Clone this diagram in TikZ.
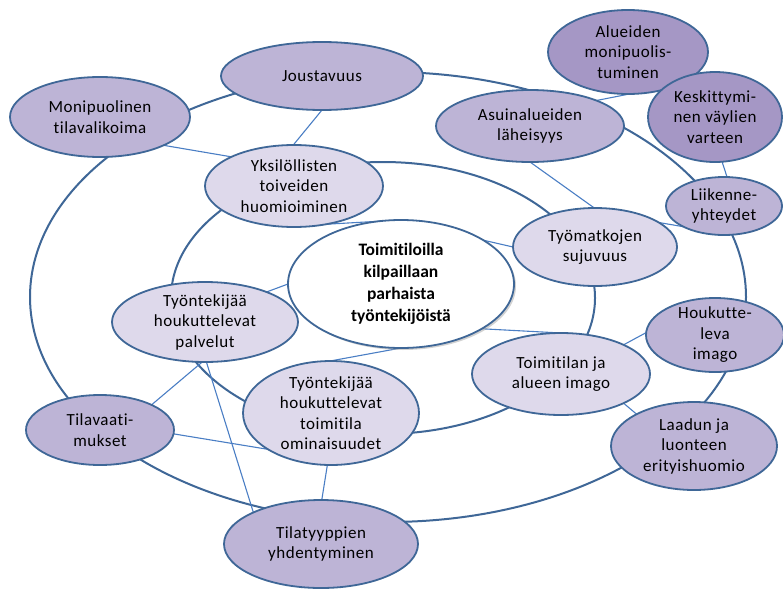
\documentclass[tikz,border=0pt]{standalone}
\usepackage{fontspec}
\setmainfont{Carlito}[Ligatures=NoCommon]
\newfontfamily\nodefont{Carlito}[LetterSpace=3, Ligatures=NoCommon]
\usetikzlibrary{shapes.geometric,backgrounds,shadows}

\definecolor{edgecol}{HTML}{3F6797}
\definecolor{linkcol}{HTML}{4A7EC4}
\definecolor{darkfill}{HTML}{A597C5}
\definecolor{outerfill}{HTML}{BDB4D6}
\definecolor{innerfill}{HTML}{DED9EB}

\tikzset{
  bubble/.style={ellipse, draw=edgecol, line width=1.8pt, inner sep=0pt, outer sep=0pt},
  darkbubble/.style={bubble, fill=darkfill},
  outerbubble/.style={bubble, fill=outerfill},
  innerbubble/.style={bubble, fill=innerfill},
  txt/.style={align=center, inner sep=0pt, font=\nodefont\fontsize{17}{20.5}\selectfont},
  coretxt/.style={align=center, inner sep=0pt, font=\bfseries\fontsize{17.5}{22}\selectfont},
  ring/.style={draw=edgecol, line width=2pt},
  link/.style={draw=linkcol, line width=1.1pt},
}

\begin{document}
\begin{tikzpicture}[x=1pt, y=-1pt]
\useasboundingbox (0,0) rectangle (783,589);

% core theme
\node[bubble, fill=white, minimum width=226pt, minimum height=128pt,
      drop shadow={shadow xshift=2pt, shadow yshift=-2pt, fill=gray!70},
      label={[coretxt]center:Toimitiloilla\\kilpaillaan\\parhaista\\työntekijöistä}]
      (ctr) at (401,284) {};

% middle ring themes
\node[innerbubble, minimum width=178pt, minimum height=82pt,
      label={[txt]center:Yksilöllisten\\toiveiden\\huomioiminen}] (yks) at (294,186) {};
\node[innerbubble, minimum width=164pt, minimum height=78pt,
      label={[txt]center:Työmatkojen\\sujuvuus}] (tyo) at (595,247) {};
\node[innerbubble, minimum width=178pt, minimum height=82pt,
      label={[txt]center:Toimitilan ja\\alueen imago}] (ima) at (561,374) {};
\node[innerbubble, minimum width=176pt, minimum height=104pt,
      label={[txt]center:Työntekijää\\houkuttelevat\\toimitila\\ominaisuudet}] (omi) at (331,413) {};
\node[innerbubble, minimum width=186pt, minimum height=80pt,
      label={[txt]center:Työntekijää\\houkuttelevat\\palvelut}] (pal) at (205,322) {};

% outer ring themes
\node[outerbubble, minimum width=180pt, minimum height=80pt,
      label={[txt]center:Monipuolinen\\tilavalikoima}] (mon) at (100,117) {};
\node[outerbubble, minimum width=202pt, minimum height=68pt,
      label={[txt]center:Joustavuus}] (jou) at (322,76) {};
\node[darkbubble, minimum width=160pt, minimum height=84pt,
      label={[txt]center:Alueiden\\monipuolis-\\tuminen}] (alu) at (628,52) {};
\node[darkbubble, minimum width=134pt, minimum height=90pt,
      label={[txt]center:Keskittymi-\\nen väylien\\varteen}] (kes) at (715,117) {};
\node[outerbubble, minimum width=188pt, minimum height=72pt,
      label={[txt]center:Asuinalueiden\\läheisyys}] (asu) at (530,126) {};
\node[outerbubble, minimum width=116pt, minimum height=58pt,
      label={[txt]center:Liikenne-\\yhteydet}] (lii) at (724,206) {};
\node[outerbubble, minimum width=138pt, minimum height=74pt,
      label={[txt]center:Houkutte-\\leva\\imago}] (hou) at (715,335) {};
\node[outerbubble, minimum width=166pt, minimum height=88pt,
      label={[txt]center:Laadun ja\\luonteen\\erityishuomio}] (laa) at (694,446) {};
\node[outerbubble, minimum width=194pt, minimum height=88pt,
      label={[txt]center:Tilatyyppien\\yhdentyminen}] (til) at (321,544) {};
\node[outerbubble, minimum width=148pt, minimum height=70pt,
      label={[txt]center:Tilavaati-\\mukset}] (vaa) at (100,430) {};

\begin{pgfonlayer}{background}
  % the two rings joining the themes
  \path[ring] (388,297) ellipse [x radius=358pt, y radius=225pt];
  \path[ring] (383,298) ellipse [x radius=212pt, y radius=136pt];

  % links between themes
  \path[link] (jou.-90) -- (yks.91);
  \path[link] (mon.-24) -- (yks.155);
  \path[link] (alu.-88) -- (asu.21);
  \path[link] (asu.-90) -- (tyo.91);
  \path[link] (kes.-81) -- (lii.84);
  \path[link] (tyo.21) -- (lii.207);
  \path[link] (ctr.28) -- (tyo.180);
  \path[link] (yks.-50) -- (ctr.90);
  \path[link] (pal.26) -- (ctr.180);
  \path[link] (ctr.-29) -- (ima.63);
  \path[link] (omi.91) -- (ctr.-90);
  \path[link] (pal.-94) -- (vaa.26);
  \path[link] (pal.-88) -- (til.155);
  \path[link] (vaa.-3) -- (omi.210);
  \path[link] (omi.-94) -- (til.89);
  \path[link] (hou.178) -- (ima.25);
  \path[link] (ima.-25) -- (laa.151);
\end{pgfonlayer}
\end{tikzpicture}
\end{document}
